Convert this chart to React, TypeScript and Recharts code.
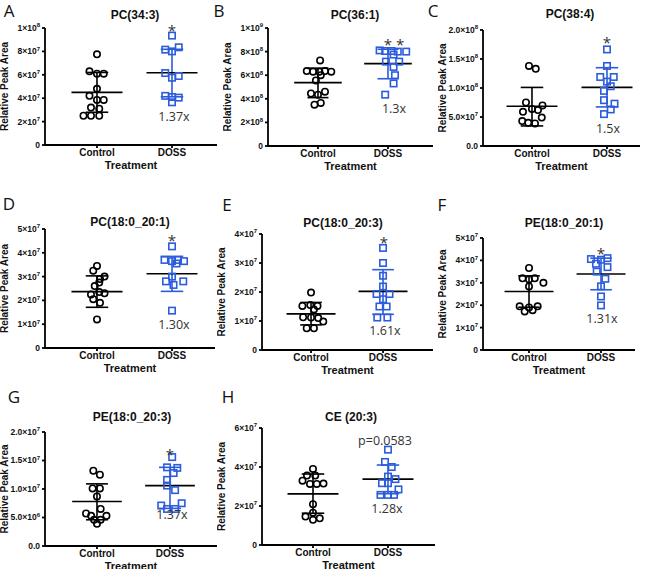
import { ScatterChart, Scatter, XAxis, YAxis, ReferenceLine, Label } from "recharts";

const groups = ["Control", "DOSS"];

// A  PC(34:3)
const aTicks = [0, 2e7, 4e7, 6e7, 8e7, 1e8];
const aTickLabels = ["0", "2×10^7", "4×10^7", "6×10^7", "8×10^7", "1×10^8"];
const aCtrl = [7.75e7, 6.3e7, 6.1e7, 6.1e7, 4.8e7, 4.2e7, 3.85e7, 3.85e7, 3.2e7, 3.1e7, 2.5e7, 2.5e7, 2.5e7];
const aCtrlJit = [0, -0.1, 0, 0.09, 0, -0.1, 0, 0.09, -0.08, 0.03, -0.18, -0.08, 0.03];
const aCtrlStats = [4.5e7, 2.8e7, 6.2e7];
const aDoss = [9.35e7, 8.15e7, 8.0e7, 8.35e7, 6.15e7, 5.75e7, 5.9e7, 4.2e7, 4.1e7, 4.05e7, 3.65e7];
const aDossJit = [0, -0.09, 0, 0.09, -0.09, 0, 0.09, -0.09, 0, 0.09, 0];
const aDossStats = [6.18e7, 4.12e7, 8.18e7];

// B  PC(36:1)
const bTicks = [0, 2e8, 4e8, 6e8, 8e8, 1e9];
const bTickLabels = ["0", "2×10^8", "4×10^8", "6×10^8", "8×10^8", "1×10^9"];
const bCtrl = [7.25e8, 6.35e8, 6.3e8, 6.3e8, 6.35e8, 6.3e8, 6.0e8, 5.55e8, 4.45e8, 4.35e8, 4.6e8, 3.5e8, 3.65e8];
const bCtrlJit = [0.03, -0.16, -0.07, 0.02, 0.1, 0.19, 0.04, -0.03, -0.1, 0, 0.1, -0.05, 0.04];
const bCtrlStats = [5.37e8, 4.1e8, 6.6e8];
const bDoss = [8.1e8, 8.05e8, 8.05e8, 8.0e8, 8.0e8, 7.75e8, 7.15e8, 7.15e8, 6.7e8, 6.0e8, 5.3e8, 4.35e8];
const bDossJit = [-0.12, -0.04, 0.05, 0.14, 0.26, 0.08, -0.03, 0.16, 0.08, 0.1, 0.08, -0.04];
const bDossStats = [6.98e8, 5.7e8, 8.2e8];

// C  PC(38:4)
const cTicks = [0, 5e7, 1e8, 1.5e8, 2e8];
const cTickLabels = ["0.0", "5.0×10^7", "1.0×10^8", "1.5×10^8", "2.0×10^8"];
const cCtrl = [13.8e7, 13.3e7, 7.5e7, 7.0e7, 6.4e7, 6.2e7, 5.9e7, 4.9e7, 4.3e7, 4.0e7, 3.9e7];
const cCtrlJit = [-0.04, 0.05, -0.08, 0.14, 0, 0.08, -0.12, 0.13, -0.13, -0.05, 0.04];
const cCtrlStats = [6.86e7, 3.46e7, 10.1e7];
const cDoss = [16.65e7, 13.8e7, 11.9e7, 11.9e7, 11.1e7, 10.3e7, 9.5e7, 7.9e7, 7.3e7, 6.3e7, 5.5e7];
const cDossJit = [0, 0, -0.09, 0.09, 0, 0.05, -0.04, -0.04, 0.1, 0.05, -0.04];
const cDossStats = [10.1e7, 6.74e7, 13.5e7];

// D  PC(18:0_20:1)
const dTicks = [0, 1e7, 2e7, 3e7, 4e7, 5e7];
const dTickLabels = ["0", "1×10^7", "2×10^7", "3×10^7", "4×10^7", "5×10^7"];
const dCtrl = [3.45e7, 3.25e7, 3.0e7, 2.9e7, 2.75e7, 2.6e7, 2.35e7, 2.3e7, 2.25e7, 2.05e7, 1.9e7, 1.2e7];
const dCtrlJit = [0, -0.05, 0.1, 0.04, 0.03, -0.03, 0.03, 0.1, -0.08, -0.05, 0.04, 0];
const dCtrlStats = [2.37e7, 1.71e7, 3.03e7];
const dDoss = [4.27e7, 3.7e7, 3.65e7, 3.7e7, 3.65e7, 3.55e7, 3.0e7, 2.8e7, 2.8e7, 2.65e7, 1.57e7];
const dDossJit = [0, -0.1, 0, 0.08, 0.16, 0.06, 0, -0.08, 0.15, 0.02, 0];
const dDossStats = [3.12e7, 2.38e7, 3.85e7];

// E  PC(18:0_20:3)
const eTicks = [0, 1e7, 2e7, 3e7, 4e7];
const eTickLabels = ["0", "1×10^7", "2×10^7", "3×10^7", "4×10^7"];
const eCtrl = [1.98e7, 1.52e7, 1.55e7, 1.52e7, 1.4e7, 1.13e7, 1.12e7, 1.1e7, 0.98e7, 0.75e7, 0.75e7];
const eCtrlJit = [0, -0.12, -0.01, 0.09, 0.04, -0.11, 0, 0.1, 0.17, -0.06, 0.04];
const eCtrlStats = [1.245e7, 0.865e7, 1.64e7];
const eDoss = [3.52e7, 3.0e7, 2.56e7, 2.19e7, 1.93e7, 1.93e7, 1.75e7, 1.5e7, 1.5e7, 1.12e7, 1.12e7];
const eDossJit = [0, 0, 0, 0, -0.09, 0.09, 0, -0.05, 0.05, -0.08, 0.06];
const eDossStats = [2.02e7, 1.23e7, 2.77e7];

// F  PE(18:0_20:1)
const fTicks = [0, 1e7, 2e7, 3e7, 4e7, 5e7];
const fTickLabels = ["0", "1×10^7", "2×10^7", "3×10^7", "4×10^7", "5×10^7"];
const fCtrl = [3.66e7, 3.2e7, 3.15e7, 3.2e7, 3.0e7, 2.84e7, 1.95e7, 1.9e7, 1.95e7, 1.72e7, 1.78e7];
const fCtrlJit = [0, -0.09, 0, 0.08, 0.2, 0, -0.13, 0, 0.12, -0.06, 0.05];
const fCtrlStats = [2.61e7, 1.91e7, 3.31e7];
const fDoss = [4.06e7, 4.03e7, 4.1e7, 3.85e7, 3.7e7, 3.5e7, 3.18e7, 2.84e7, 2.39e7, 1.99e7];
const fDossJit = [-0.14, 0, 0.09, -0.07, 0.09, -0.06, 0.06, 0, 0, 0];
const fDossStats = [3.39e7, 2.69e7, 4.1e7];

// G  PE(18:0_20:3)
const gTicks = [0, 5e6, 1e7, 1.5e7, 2e7];
const gTickLabels = ["0.0", "5.0×10^6", "1.0×10^7", "1.5×10^7", "2.0×10^7"];
const gCtrl = [13.2e6, 12.5e6, 10.1e6, 10.1e6, 8.7e6, 6.5e6, 5.7e6, 5.3e6, 5.3e6, 4.6e6, 4.6e6, 3.9e6];
const gCtrlJit = [-0.05, 0.04, -0.06, 0.04, 0, 0.05, -0.15, -0.08, 0.13, -0.04, 0.05, 0];
const gCtrlStats = [7.8e6, 4.6e6, 10.9e6];
const gDoss = [15.6e6, 13.8e6, 13.7e6, 12.8e6, 11.6e6, 10.6e6, 9.8e6, 7.5e6, 7.1e6, 6.5e6, 6.5e6];
const gDossJit = [0.03, -0.04, 0.1, 0.05, -0.04, -0.04, 0.07, 0.16, -0.12, -0.04, 0.07];
const gDossStats = [10.6e6, 6.6e6, 13.8e6];

// H  CE (20:3)
const hTicks = [0, 2e7, 4e7, 6e7];
const hTickLabels = ["0", "2×10^7", "4×10^7", "6×10^7"];
const hCtrl = [3.9e7, 3.56e7, 3.56e7, 3.3e7, 3.13e7, 3.13e7, 3.15e7, 2.09e7, 1.66e7, 1.46e7, 1.37e7, 1.29e7];
const hCtrlJit = [0, -0.08, 0.03, -0.14, -0.04, 0.05, 0.14, 0, 0, -0.1, 0.09, 0];
const hCtrlStats = [2.62e7, 1.63e7, 3.64e7];
const hDoss = [4.89e7, 4.26e7, 4.0e7, 3.51e7, 3.38e7, 3.17e7, 3.17e7, 2.85e7, 2.57e7, 2.57e7, 2.57e7];
const hDossJit = [0, -0.04, 0.05, 0, 0.1, -0.08, 0, 0.14, -0.1, 0, 0.08];
const hDossStats = [3.38e7, 2.63e7, 4.1e7];

const BLUE = "#2b5cdc";

const panels = [
  { letter: "A", title: "PC(34:3)", ticks: aTicks, labels: aTickLabels, ctrl: aCtrl, ctrlJit: aCtrlJit, ctrlStats: aCtrlStats, doss: aDoss, dossJit: aDossJit, dossStats: aDossStats, star: "*", fold: "1.37x",
    ax: 45, top: 28, zero: 145, end: 217, xDom: [0.307, 2.6], titleAt: [135, 15], letterAt: [9, 10], starAt: [172, 30], foldAt: [174, 116] },
  { letter: "B", title: "PC(36:1)", ticks: bTicks, labels: bTickLabels, ctrl: bCtrl, ctrlJit: bCtrlJit, ctrlStats: bCtrlStats, doss: bDoss, dossJit: bDossJit, dossStats: bDossStats, star: "* *", fold: "1.3x",
    ax: 268, top: 28, zero: 146, end: 433, xDom: [0.286, 2.643], titleAt: [355, 15], letterAt: [219, 10], starAt: [394, 44], foldAt: [394, 108] },
  { letter: "C", title: "PC(38:4)", ticks: cTicks, labels: cTickLabels, ctrl: cCtrl, ctrlJit: cCtrlJit, ctrlStats: cCtrlStats, doss: cDoss, dossJit: cDossJit, dossStats: cDossStats, star: "*", fold: "1.5x",
    ax: 483, top: 30, zero: 146, end: 640, xDom: [0.347, 2.44], titleAt: [570, 14], letterAt: [433, 10], starAt: [607, 42], foldAt: [608, 128] },
  { letter: "D", title: "PC(18:0_20:1)", ticks: dTicks, labels: dTickLabels, ctrl: dCtrl, ctrlJit: dCtrlJit, ctrlStats: dCtrlStats, doss: dDoss, dossJit: dDossJit, dossStats: dDossStats, star: "*", fold: "1.30x",
    ax: 45, top: 229, zero: 348, end: 215, xDom: [0.307, 2.573], titleAt: [130, 222], letterAt: [9, 203], starAt: [172, 240], foldAt: [174, 324] },
  { letter: "E", title: "PC(18:0_20:3)", ticks: eTicks, labels: eTickLabels, ctrl: eCtrl, ctrlJit: eCtrlJit, ctrlStats: eCtrlStats, doss: eDoss, dossJit: eDossJit, dossStats: eDossStats, star: "*", fold: "1.61x",
    ax: 262, top: 234, zero: 350, end: 433, xDom: [0.319, 2.694], titleAt: [343, 223], letterAt: [227, 204], starAt: [384, 242], foldAt: [385, 330] },
  { letter: "F", title: "PE(18:0_20:1)", ticks: fTicks, labels: fTickLabels, ctrl: fCtrl, ctrlJit: fCtrlJit, ctrlStats: fCtrlStats, doss: fDoss, dossJit: fDossJit, dossStats: fDossStats, star: "*", fold: "1.31x",
    ax: 483, top: 238, zero: 350, end: 635, xDom: [0.361, 2.472], titleAt: [564, 223], letterAt: [442, 204], starAt: [601, 253], foldAt: [602, 318] },
  { letter: "G", title: "PE(18:0_20:3)", ticks: gTicks, labels: gTickLabels, ctrl: gCtrl, ctrlJit: gCtrlJit, ctrlStats: gCtrlStats, doss: gDoss, dossJit: gDossJit, dossStats: gDossStats, star: "*", fold: "1.37x",
    ax: 45, top: 432, zero: 546, end: 217, xDom: [0.288, 2.644], titleAt: [132, 417], letterAt: [14, 396], starAt: [170, 454], foldAt: [172, 514] },
  { letter: "H", title: "CE (20:3)", ticks: hTicks, labels: hTickLabels, ctrl: hCtrl, ctrlJit: hCtrlJit, ctrlStats: hCtrlStats, doss: hDoss, dossJit: hDossJit, dossStats: hDossStats, star: "p=0.0583", fold: "1.28x",
    ax: 262, top: 428, zero: 545, end: 435, xDom: [0.32, 2.627], titleAt: [351, 417], letterAt: [228, 396], starAt: [385, 440], foldAt: [387, 508] },
];

const FONT = "'Liberation Sans', Arial, sans-serif";

function YTick(props: any) {
  const { x, y, payload, ticks, labels } = props;
  const i = ticks.findIndex((t: number) => Math.abs(t - payload.value) < 1);
  const lab: string = labels[i] ?? String(payload.value);
  const [m, e] = lab.split("^");
  return (
    <text x={x} y={y} dy="0.35em" textAnchor="end" fontSize={8.5} fontWeight="bold" fontFamily={FONT} fill="#111">
      {m}
      {e && (
        <tspan dy={-3.5} fontSize={6}>
          {e}
        </tspan>
      )}
    </text>
  );
}

function YLabel(props: any) {
  const { viewBox, top, zero } = props;
  const x = viewBox.x + 8;
  const y = 8 + (zero - top) / 2;
  return (
    <text x={x} y={y} transform={`rotate(-90, ${x}, ${y})`} textAnchor="middle" fontSize={10} fontWeight="bold" fontFamily={FONT} fill="#111">
      Relative Peak Area
    </text>
  );
}

const circle = (p: any) => <circle cx={p.cx} cy={p.cy} r={3.2} fill="none" stroke="#000" strokeWidth={1.6} />;
const square = (p: any) => <rect x={p.cx - 3.2} y={p.cy - 3.2} width={6.4} height={6.4} fill="none" stroke={BLUE} strokeWidth={1.6} />;

function Panel({ p }: { p: (typeof panels)[number] }) {
  const left = p.ax - 45;
  const top = p.top - 8;
  const width = p.end - p.ax + 45 + 6;
  const height = p.zero - p.top + 8 + 28;
  const ctrlPts = p.ctrl.map((v, i) => ({ x: 1 + p.ctrlJit[i], y: v }));
  const dossPts = p.doss.map((v, i) => ({ x: 2 + p.dossJit[i], y: v }));
  const yMax = p.ticks[p.ticks.length - 1];
  const [mC, loC, hiC] = p.ctrlStats;
  const [mD, loD, hiD] = p.dossStats;
  const seg = (x1: number, x2: number, y1: number, y2: number, color: string, k: string) => (
    <ReferenceLine key={k} segment={[{ x: x1, y: y1 }, { x: x2, y: y2 }]} stroke={color} strokeWidth={1.6} ifOverflow="visible" />
  );
  return (
    <>
      <div style={{ position: "absolute", left, top }}>
        <ScatterChart width={width} height={height} margin={{ top: 8, right: 6, bottom: 0, left: 0 }}>
          <XAxis
            type="number"
            dataKey="x"
            domain={p.xDom}
            ticks={[1, 2]}
            interval={0}
            tickFormatter={(v: number) => groups[Math.round(v) - 1]}
            allowDataOverflow
            height={28}
            stroke="#000"
            strokeWidth={1.8}
            tickSize={3}
            tickMargin={1}
            tick={{ fontSize: 10, fontWeight: "bold", fontFamily: FONT, fill: "#111" }}
          >
            <Label value="Treatment" position="insideBottom" offset={4} style={{ fontSize: 11, fontWeight: "bold", fontFamily: FONT, fill: "#111" }} />
          </XAxis>
          <YAxis
            type="number"
            dataKey="y"
            domain={[0, yMax]}
            ticks={p.ticks}
            interval={0}
            width={45}
            stroke="#000"
            strokeWidth={1.8}
            tickSize={3}
            tickMargin={2}
            tick={(tp: any) => <YTick {...tp} ticks={p.ticks} labels={p.labels} />}
          >
            <Label content={(lp: any) => <YLabel {...lp} top={p.top} zero={p.zero} />} />
          </YAxis>
          <Scatter data={ctrlPts} shape={circle} isAnimationActive={false} />
          <Scatter data={dossPts} shape={square} isAnimationActive={false} />
          {seg(1, 1, loC, hiC, "#000", "cv")}
          {seg(0.85, 1.15, loC, loC, "#000", "cl")}
          {seg(0.85, 1.15, hiC, hiC, "#000", "ch")}
          {seg(0.66, 1.34, mC, mC, "#000", "cm")}
          {seg(2, 2, loD, hiD, BLUE, "dv")}
          {seg(1.85, 2.15, loD, loD, BLUE, "dl")}
          {seg(1.85, 2.15, hiD, hiD, BLUE, "dh")}
          {seg(1.66, 2.34, mD, mD, "#000", "dm")}
        </ScatterChart>
      </div>
      <div style={{ position: "absolute", left: p.titleAt[0], top: p.titleAt[1], transform: "translate(-50%,-50%)", font: `bold 12px ${FONT}`, color: "#111", whiteSpace: "nowrap" }}>
        {p.title}
      </div>
      <div style={{ position: "absolute", left: p.letterAt[0], top: p.letterAt[1], transform: "translate(-50%,-50%)", font: `17px 'Open Sans', sans-serif`, color: "#111" }}>
        {p.letter}
      </div>
      <div style={{ position: "absolute", left: p.starAt[0], top: p.starAt[1], transform: "translate(-50%,-50%)", font: p.star.startsWith("*") ? `15px 'Open Sans', sans-serif` : `12.5px 'Open Sans', sans-serif`, color: "#333", whiteSpace: "nowrap" }}>
        {p.star}
      </div>
      <div style={{ position: "absolute", left: p.foldAt[0], top: p.foldAt[1], transform: "translate(-50%,-50%)", font: `12.5px 'Open Sans', sans-serif`, color: "#333", whiteSpace: "nowrap" }}>
        {p.fold}
      </div>
    </>
  );
}

export default function App() {
  return (
    <div style={{ position: "absolute", left: 0, top: 0, width: 657, height: 569, background: "#fff", overflow: "hidden" }}>
      {panels.map((p) => (
        <Panel key={p.letter} p={p} />
      ))}
    </div>
  );
}
